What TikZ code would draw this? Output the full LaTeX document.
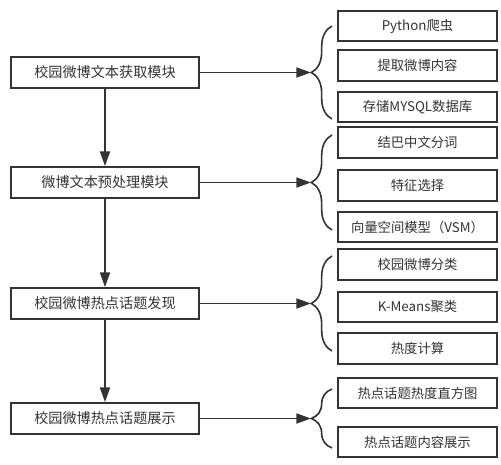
\documentclass[tikz,border=0pt]{standalone}
\usepackage{fontspec}
\setmainfont{Noto Sans CJK SC}
\usetikzlibrary{arrows.meta,positioning,decorations.pathreplacing}
\definecolor{linegray}{HTML}{333333}

\begin{document}
\begin{tikzpicture}[
        x=0.75pt, y=-0.75pt,
        module/.style={rectangle, draw=linegray, line width=1.3pt, minimum width=141pt, minimum height=23.3pt, inner sep=0pt, text=linegray, font=\fontsize{10.6}{13}\selectfont},
        sub/.style={rectangle, draw=linegray, line width=1.3pt, minimum width=119.3pt, minimum height=22.8pt, inner sep=0pt, text=linegray, font=\fontsize{10}{12}\selectfont},
        arrow/.style={line width=1.3pt, draw=linegray, -{Triangle[length=11pt,width=7.5pt]}},
        bracket/.style={line width=1.2pt, draw=linegray, decorate, decoration={brace, amplitude=15.5pt}}
    ]
        \useasboundingbox (0,0) rectangle (501,465);

        % Modules
        \node[module] (fetch) at (105,72.5) {校园微博文本获取模块};
        \node[module] (prep) at (105,182.5) {微博文本预处理模块};
        \node[module] (find) at (105,303.5) {校园微博热点话题发现};
        \node[module] (show) at (105,418.5) {校园微博热点话题展示};

        % Module flow
        \draw[arrow] (fetch) -- (prep);
        \draw[arrow] (prep) -- (find);
        \draw[arrow] (find) -- (show);

        % Fetch details
        \node[sub] (crawler) at (417.5,26) {Python爬虫};
        \node[sub] (extract) at (417.5,65.5) {提取微博内容};
        \node[sub] (store) at (417.5,107) {存储MYSQL数据库};
        \draw[bracket] (332,119) -- (332,26);
        \coordinate (tip1) at (311,72.5);

        % Preprocessing details
        \node[sub] (jieba) at (417.5,142.5) {结巴中文分词};
        \node[sub] (feature) at (417.5,185.5) {特征选择};
        \node[sub] (vsm) at (417.5,227) {向量空间模型（VSM）};
        \draw[bracket] (332,230) -- (332,135);
        \coordinate (tip2) at (311,182.5);

        % Discovery details
        \node[sub] (classify) at (417.5,264.5) {校园微博分类};
        \node[sub] (kmeans) at (417.5,307) {K-Means聚类};
        \node[sub] (heat) at (417.5,348.5) {热度计算};
        \draw[bracket] (332,351) -- (332,256);
        \coordinate (tip3) at (311,303.5);

        % Display details
        \node[sub] (histogram) at (417.5,393) {热点话题热度直方图};
        \node[sub] (content) at (417.5,442) {热点话题内容展示};
        \draw[bracket] (332,448) -- (332,389);
        \coordinate (tip4) at (311,418.5);

        % Details links
        \draw[arrow] (fetch) -- (tip1);
        \draw[arrow] (prep) -- (tip2);
        \draw[arrow] (find) -- (tip3);
        \draw[arrow] (show) -- (tip4);
    \end{tikzpicture}
\end{document}
